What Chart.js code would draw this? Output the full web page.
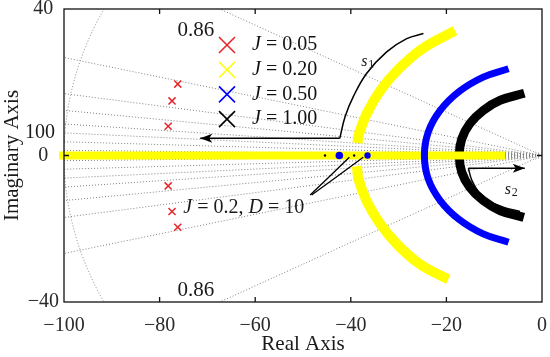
<!DOCTYPE html>
<html>
<head>
<meta charset="utf-8">
<script src="https://cdn.jsdelivr.net/npm/chart.js@4.4.1/dist/chart.umd.min.js"></script>
<style>
  html, body { margin: 0; padding: 0; background: #fff; }
</style>
</head>
<body>
<canvas id="locus" width="550" height="357"></canvas>
<script>
const FONT = "'Liberation Serif', 'DejaVu Serif', serif";

// axis ticks
const xTicks = [-100, -80, -60, -40, -20, 0];
const yTicks = [-40, 0, 40];

// sgrid: damping ratios, natural frequencies
const gridZeta = [0.86, 0.966, 0.986, 0.9925, 0.9963, 0.9981, 0.9993, 0.9999];
const gridWn = [100];
const smallWn = [1, 1.75, 2.5, 3.25, 4, 4.75, 5.5, 6.25, 7];

// legend
const inertia = ['0.05', '0.20', '0.50', '1.00'];
const colors = ['#e8262a', '#ffff00', '#0000ff', '#000000'];

// J = 0.05 poles
const redPoles = [
    { x: -76.2, y: 19.5 }, { x: -77.4, y: 14.9 }, { x: -78.2, y: 8.0 },
    { x: -78.2, y: -8.3 }, { x: -77.4, y: -15.3 }, { x: -76.2, y: -19.6 }
];
// J = 0.20 loci
const yellowReal = [{ x: -101, y: 0 }, { x: -7.7, y: 0 }];
const yellowUpper = [
    { x: -18.2, y: 34.1 }, { x: -25.0, y: 29.2 }, { x: -30.0, y: 23.6 }, { x: -33.8, y: 17.8 },
    { x: -36.6, y: 11.6 }, { x: -38.3, y: 5.8 }, { x: -38.6, y: 3.4 }
];
const yellowLower = [
    { x: -38.7, y: -2.9 }, { x: -38.4, y: -6.4 }, { x: -36.7, y: -12.4 }, { x: -33.9, y: -18.6 },
    { x: -30.2, y: -24.4 }, { x: -25.4, y: -29.8 }, { x: -19.6, y: -33.8 }
];
// J = 0.50 loci
const bluePoles = [
    { x: -7.0, y: 23.7 }, { x: -12.3, y: 21.4 }, { x: -17.4, y: 17.4 }, { x: -21.3, y: 12.3 },
    { x: -23.8, y: 6.4 }, { x: -24.6, y: 0 }, { x: -23.8, y: -6.4 }, { x: -21.3, y: -12.3 },
    { x: -17.4, y: -17.4 }, { x: -12.3, y: -21.4 }, { x: -7.0, y: -23.7 }
];
// J = 1.00 loci
const blackPoles = [
    { x: -3.7, y: 17.0 }, { x: -8.7, y: 15.1 }, { x: -12.3, y: 12.3 }, { x: -15.1, y: 8.7 },
    { x: -16.8, y: 4.5 }, { x: -17.3, y: 0 }, { x: -16.8, y: -4.5 }, { x: -15.1, y: -8.7 },
    { x: -12.3, y: -12.3 }, { x: -8.7, y: -15.1 }, { x: -3.8, y: -16.9 }
];
// J = 0.2, D = 10 poles on the real axis
const jdBlue = [{ x: -42.4, y: 0 }, { x: -36.5, y: 0 }];
const jdBlack = [{ x: -45.4, y: 0 }, { x: -39.3, y: 0 }];

// annotation paths
const s1Arrow = [{ x: -42.3, y: 4.7 }, { x: -71.5, y: 4.7 }];
const s1Curve = [
    { x: -42.3, y: 4.7 }, { x: -41.2, y: 10.6 }, { x: -39.5, y: 16.0 }, { x: -36.7, y: 22.4 },
    { x: -32.5, y: 28.3 }, { x: -28.3, y: 31.9 }, { x: -24.8, y: 33.3 }
];
const s2Arrow = [{ x: -15.4, y: -3.5 }, { x: -3.6, y: -3.5 }];
const s2Curve = [
    { x: -15.4, y: -3.5 }, { x: -14.7, y: -6.7 }, { x: -13.3, y: -9.9 }, { x: -10.9, y: -12.6 },
    { x: -8.1, y: -14.1 }, { x: -4.6, y: -15.3 }
];
const jdPointerA = [{ x: -48.5, y: -10.8 }, { x: -40.3, y: -0.5 }];
const jdPointerB = [{ x: -48.2, y: -10.8 }, { x: -37.4, y: -0.5 }];

function minus(v) {
    return v < 0 ? '\u2212' + Math.abs(v) : String(v);
}

function richText(ctx, parts, x, y, size, align) {
    let w = 0;
    parts.forEach(p => {
        ctx.font = (p[1] ? 'italic ' : '') + size + 'px ' + FONT;
        w += ctx.measureText(p[0]).width;
    });
    let cx = align === 'center' ? x - w / 2 : x;
    ctx.textAlign = 'left';
    ctx.textBaseline = 'middle';
    parts.forEach(p => {
        ctx.font = (p[1] ? 'italic ' : '') + size + 'px ' + FONT;
        ctx.fillText(p[0], cx, y);
        cx += ctx.measureText(p[0]).width;
    });
}

function drawX(ctx, x, y, h) {
    ctx.beginPath();
    ctx.moveTo(x - h, y - h); ctx.lineTo(x + h, y + h);
    ctx.moveTo(x - h, y + h); ctx.lineTo(x + h, y - h);
    ctx.stroke();
}

function arrowHead(ctx, x, y, dir) {
    ctx.beginPath();
    ctx.moveTo(x, y);
    ctx.lineTo(x - dir * 12, y - 4.5);
    ctx.lineTo(x - dir * 9, y);
    ctx.lineTo(x - dir * 12, y + 4.5);
    ctx.closePath();
    ctx.fill();
}

const sgrid = {
    id: 'sgrid',
    beforeDatasetsDraw(chart) {
        const { ctx, chartArea: a, scales: { x, y } } = chart;
        const ox = x.getPixelForValue(0), oy = y.getPixelForValue(0);
        ctx.save();
        ctx.beginPath();
        ctx.rect(a.left, a.top, a.right - a.left, a.bottom - a.top);
        ctx.clip();
        ctx.strokeStyle = '#808080';
        ctx.lineWidth = 1;
        ctx.setLineDash([1, 2]);
        gridZeta.forEach(z => {
            const th = Math.acos(z);
            [1, -1].forEach(s => {
                ctx.beginPath();
                ctx.moveTo(ox, oy);
                ctx.lineTo(x.getPixelForValue(-130 * Math.cos(th)), y.getPixelForValue(s * 130 * Math.sin(th)));
                ctx.stroke();
            });
        });
        gridWn.forEach(w => {
            ctx.beginPath();
            ctx.ellipse(ox, oy, ox - x.getPixelForValue(-w), y.getPixelForValue(-w) - oy, 0, Math.PI / 2, Math.PI * 1.5);
            ctx.stroke();
        });
        // small circles close to the origin, only visible around the real axis
        ctx.beginPath();
        ctx.rect(a.left, y.getPixelForValue(1.1), a.right - a.left, y.getPixelForValue(-1.1) - y.getPixelForValue(1.1));
        ctx.clip();
        smallWn.forEach(w => {
            ctx.beginPath();
            ctx.ellipse(ox, oy, ox - x.getPixelForValue(-w), y.getPixelForValue(-w) - oy, 0, Math.PI / 2, Math.PI * 1.5);
            ctx.stroke();
        });
        ctx.restore();
    }
};

const frame = {
    id: 'frame',
    afterDatasetsDraw(chart) {
        const { ctx, chartArea: a, scales: { x, y } } = chart;
        ctx.save();
        ctx.strokeStyle = '#111';
        ctx.lineWidth = 1.3;
        ctx.strokeRect(a.left, a.top, a.right - a.left, a.bottom - a.top);
        ctx.beginPath();
        xTicks.slice(1, -1).forEach(v => {
            const px = x.getPixelForValue(v);
            ctx.moveTo(px, a.bottom); ctx.lineTo(px, a.bottom - 5);
            ctx.moveTo(px, a.top); ctx.lineTo(px, a.top + 5);
        });
        yTicks.slice(1, -1).forEach(v => {
            const py = y.getPixelForValue(v);
            ctx.moveTo(a.left, py); ctx.lineTo(a.left + 5, py);
            ctx.moveTo(a.right, py); ctx.lineTo(a.right - 5, py);
        });
        ctx.stroke();

        // arrow heads
        ctx.fillStyle = '#000';
        arrowHead(ctx, x.getPixelForValue(s1Arrow[1].x), y.getPixelForValue(s1Arrow[1].y), -1);
        arrowHead(ctx, x.getPixelForValue(s2Arrow[1].x), y.getPixelForValue(s2Arrow[1].y), 1);

        // labels
        ctx.fillStyle = '#1a1a1a';
        const P = (vx, vy) => [x.getPixelForValue(vx), y.getPixelForValue(vy)];
        let p = P(-72.4, 34.2);
        richText(ctx, [['0.86', false]], p[0], p[1], 21, 'center');
        p = P(-72.4, -36.9);
        richText(ctx, [['0.86', false]], p[0], p[1], 21, 'center');
        p = P(-105, 6.1);
        richText(ctx, [['100', false]], p[0], p[1], 20, 'center');
        p = P(-62.4, -14.3);
        richText(ctx, [['J', true], [' = 0.2, ', false], ['D', true], [' = 10', false]], p[0], p[1], 20, 'center');
        p = P(-37.8, 25.5);
        richText(ctx, [['s', true]], p[0], p[1], 16, 'left');
        richText(ctx, [['1', false]], p[0] + 7, p[1] + 3, 12, 'left');
        p = P(-7.8, -9.4);
        richText(ctx, [['s', true]], p[0], p[1], 16, 'left');
        richText(ctx, [['2', false]], p[0] + 7, p[1] + 3, 12, 'left');
        ctx.restore();
    },
    afterDraw(chart) {
        const { ctx, chartArea: a } = chart;
        ctx.save();
        ctx.lineWidth = 1.6;
        inertia.forEach((lab, i) => {
            const yy = a.top + 36 + i * 24.7;
            ctx.strokeStyle = colors[i];
            drawX(ctx, a.left + 163, yy, 8);
            ctx.fillStyle = '#111';
            richText(ctx, [['J', true], [' = ' + lab, false]], a.left + 188, yy, 20, 'left');
        });
        ctx.restore();
    }
};

function band(data, color, width) {
    return {
        data: data, showLine: true, borderColor: color, backgroundColor: color,
        borderWidth: width, pointRadius: 0, tension: 0.4, borderCapStyle: 'butt', borderJoinStyle: 'round'
    };
}

new Chart(document.getElementById('locus'), {
    type: 'scatter',
    data: {
        datasets: [
            band(s1Arrow, '#000', 1.5),
            band(s1Curve, '#000', 1.5),
            band(s2Arrow, '#000', 1.5),
            band(s2Curve, '#000', 1.5),
            band(jdPointerA, '#000', 1.3),
            band(jdPointerB, '#000', 1.3),
            { data: jdBlue, pointRadius: [3.8, 3.2], pointStyle: 'circle', backgroundColor: '#0000ee', borderWidth: 0 },
            { data: jdBlack, pointRadius: 1.2, pointStyle: 'circle', backgroundColor: '#000030', borderWidth: 0 },
            { data: redPoles, pointStyle: 'crossRot', pointRadius: 5, borderColor: colors[0], borderWidth: 1.5 },
            band(bluePoles, colors[2], 7),
            Object.assign(band(yellowReal, colors[1], 8), { clip: { left: 5, top: 0, right: 0, bottom: 0 } }),
            band(blackPoles, colors[3], 9),
            band(yellowUpper, colors[1], 10),
            band(yellowLower, colors[1], 10)
        ]
    },
    plugins: [sgrid, frame],
    options: {
        responsive: false,
        animation: false,
        devicePixelRatio: 1,
        layout: { padding: { top: 9, right: 8, left: 0, bottom: 0 } },
        plugins: { legend: { display: false }, tooltip: { enabled: false } },
        scales: {
            x: {
                type: 'linear', min: -100, max: 0,
                afterBuildTicks: s => { s.ticks = xTicks.map(v => ({ value: v })); },
                afterFit: s => { s.height = 55; s.paddingLeft = 0; s.paddingRight = 0; },
                grid: { display: false, drawTicks: false },
                border: { display: false },
                ticks: {
                    font: { family: FONT, size: 20 }, color: '#2a2a2a', padding: 12,
                    maxRotation: 0, autoSkip: false, callback: v => minus(v)
                },
                title: {
                    display: true, text: 'Real Axis', color: '#1a1a1a',
                    font: { family: FONT, size: 21 }, padding: { top: 0, bottom: 0 }
                }
            },
            y: {
                type: 'linear', min: -40, max: 40,
                afterBuildTicks: s => { s.ticks = yTicks.map(v => ({ value: v })); },
                afterFit: s => { s.width = 64; s.paddingTop = 0; s.paddingBottom = 0; },
                grid: { display: false, drawTicks: false },
                border: { display: false },
                ticks: {
                    font: { family: FONT, size: 20 }, color: '#2a2a2a', padding: 5,
                    crossAlign: 'center', autoSkip: false, callback: v => minus(v)
                },
                title: {
                    display: true, text: 'Imaginary Axis', color: '#1a1a1a',
                    font: { family: FONT, size: 21 }, padding: { top: 0, bottom: 0 }
                }
            }
        }
    }
});
</script>
</body>
</html>
